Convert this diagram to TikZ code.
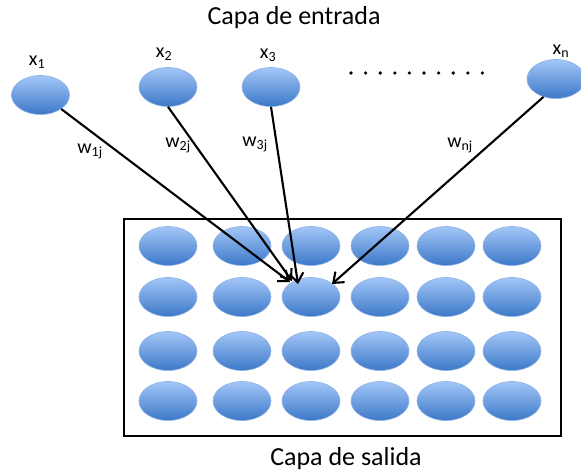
\documentclass[tikz,border=0pt]{standalone}
\usepackage{fontspec}
\setmainfont{Carlito}
\usetikzlibrary{shapes.geometric,arrows.meta}
\definecolor{topblue}{HTML}{A3C6F7}
\definecolor{botblue}{HTML}{3C78C8}
\definecolor{edgeblue}{HTML}{8CB2E6}
\begin{document}
\begin{tikzpicture}[x=1pt,y=-1pt,
 neuron/.style={ellipse, draw=edgeblue, line width=0.6pt, top color=topblue, bottom color=botblue, minimum width=58pt, minimum height=39pt, inner sep=0pt},
 lbl/.style={font=\fontsize{20}{20}\selectfont, inner sep=0pt},
 titlelbl/.style={font=\fontsize{26}{26}\selectfont, inner sep=0pt},
 conn/.style={line width=2.1pt, -{Straight Barb[length=9pt,width=14pt,line width=2.1pt]}},
]
\useasboundingbox (0,0) rectangle (581,473);
\node[titlelbl] (tin) at (294,18) {Capa de entrada};
\node[titlelbl] (tout) at (346,459) {Capa de salida};

% output layer box
\node[draw, line width=2.4pt, minimum width=437pt, minimum height=217pt, inner sep=0pt, anchor=north west] (box) at (123,218) {};

% output grid
\foreach \c/\x in {1/168,2/242,3/311,4/380,5/446,6/512}{
  \foreach \r/\y in {1/246,2/297,3/351,4/401}{
    \node[neuron] (o\r\c) at (\x,\y) {};
  }
}

% input nodes
\node[neuron] (x1) at (40.5,95) {};
\node[neuron] (x2) at (168,87) {};
\node[neuron] (x3) at (271,87) {};
\node[neuron] (xn) at (556,79) {};

\node[lbl] (lx1) at (37,62) {x\textsubscript{1}};
\node[lbl] (lx2) at (164,54) {x\textsubscript{2}};
\node[lbl] (lx3) at (268,55) {x\textsubscript{3}};
\node[lbl] (lxn) at (561,51) {x\textsubscript{n}};

\foreach \i in {0,...,9}{
  \fill (351+\i*14.6,73) circle (1.8pt);
}

% arrow tips
\coordinate (tip1) at (290,282);
\coordinate (tip2) at (292,281);
\coordinate (tip3) at (298,284);
\coordinate (tipn) at (332,284);

\draw[conn] (x1.south east) -- (tip1);
\draw[conn] (x2.south) -- (tip2);
\draw[conn] (x3.south) -- (tip3);
\draw[conn] (xn.-125) -- (tipn);

\node[lbl] (w1) at (90,151) {w\textsubscript{1j}};
\node[lbl] (w2) at (178,145) {w\textsubscript{2j}};
\node[lbl] (w3) at (255,144) {w\textsubscript{3j}};
\node[lbl] (wn) at (460,145) {w\textsubscript{nj}};
\end{tikzpicture}
\end{document}
